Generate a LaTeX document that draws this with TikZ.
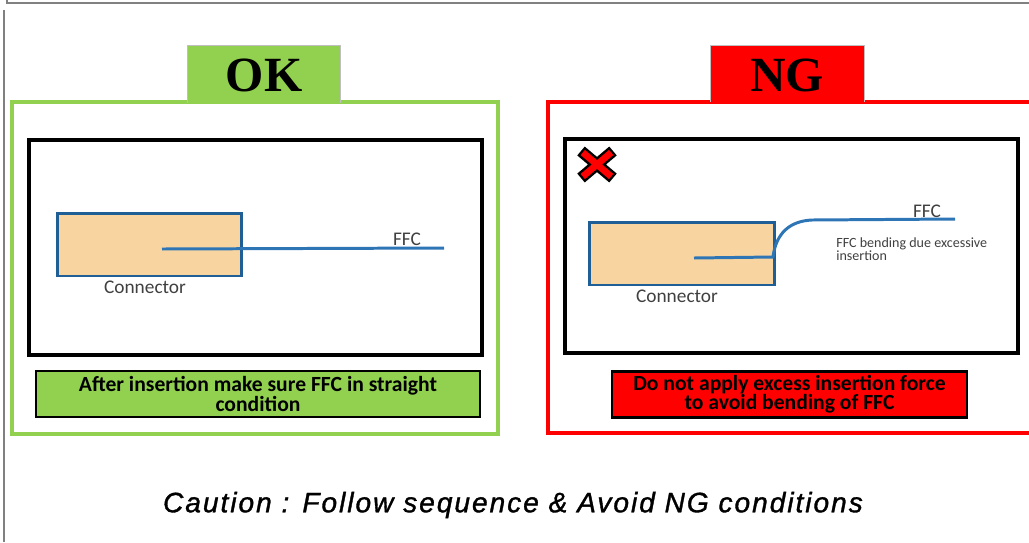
\documentclass[tikz,border=0pt]{standalone}
\usepackage{fontspec}
\setmainfont{Carlito}
\newfontfamily\tabfont{Liberation Serif}
\newfontfamily\cautionfont[FakeBold=1.2,LetterSpace=7]{Liberation Sans}
\definecolor{okgreen}{RGB}{146,208,80}
\definecolor{ngred}{RGB}{255,0,0}
\definecolor{ffcblue}{RGB}{46,117,182}
\definecolor{connfill}{RGB}{248,213,160}
\definecolor{connedge}{RGB}{31,95,150}
\definecolor{labelgray}{RGB}{64,64,64}
\tikzset{
  edge/.style={gray, line width=1.1pt},
  frame/.style={line width=1.8pt},
  tabbox/.style={draw=gray!50, line width=0.5pt},
  tabtext/.style={font=\tabfont\bfseries\fontsize{28}{28}\selectfont},
  panel/.style={draw=black, line width=2pt},
  conn/.style={draw=connedge, fill=connfill, line width=1.7pt, minimum width=3.7cm, minimum height=1.26cm, inner sep=0pt},
  ffc/.style={ffcblue, line width=1.7pt},
  lbl/.style={text=labelgray, font=\fontsize{11}{11}\selectfont, inner sep=0pt},
  tiny/.style={text=labelgray, font=\fontsize{8}{7.5}\selectfont, align=left, inner sep=0pt},
  caption/.style={draw=black, line width=1.6pt, minimum height=0.92cm, align=center, inner sep=0pt, font=\bfseries\fontsize{12.3}{11}\selectfont},
}

\begin{document}
\begin{tikzpicture}[x=0.02cm, y=-0.02cm]
  \useasboundingbox (0,0) rectangle (1029,542);
  % page edges
  \draw[edge] (7,0) -- (7,3) -- (1029,3);
  \draw[edge] (4,10) -- (4,542);
  % OK
  \draw[frame, okgreen] (12,102) rectangle (498,434);
  \fill[okgreen] (187,45) rectangle (340,104);
  \draw[tabbox] (187,103) -- (187,45) -- (340,45) -- (340,103);
  \node[tabtext] (ok) at (264,75) {OK};
  \draw[panel] (29,140) rectangle (482,355);
  \node[conn] (lbox) at (149.5,244.5) {};
  \node[lbl] (lconn) at (145,287) {Connector};
  \coordinate (lin) at (162,249);
  \coordinate (lout) at (444,248);
  \draw[ffc] (lin) -- (lout);
  \node[lbl] (lffc) at (407,239) {FFC};
  \node[caption, fill=okgreen, minimum width=8.88cm] (lcap) at (258,394)
    {After insertion make sure FFC in straight\\condition};
  % NG
  \draw[frame, ngred] (1029,102) -- (548,102) -- (548,433) -- (1029,433);
  \fill[ngred] (710,45) rectangle (864,103);
  \draw[tabbox] (710,102) -- (710,45) -- (864,45) -- (864,102);
  \node[tabtext] (ng) at (787,75) {NG};
  \draw[panel] (565,139) rectangle (1018,353);
  \draw[black, line width=6.6pt] (581,151) -- (613,178) (613,151) -- (581,178);
  \draw[ngred, line width=3.8pt] (582.8,152.5) -- (611.2,176.5) (611.2,152.5) -- (582.8,176.5);
  \node[conn] (rbox) at (682,253.5) {};
  \node[lbl] (rconn) at (677,296) {Connector};
  \coordinate (rin) at (694,258);
  \coordinate (rbend) at (773,257);
  \coordinate (rtop) at (812,220);
  \coordinate (rout) at (955,219);
  \draw[ffc] (rin) -- (rbend) .. controls (776,233) and (790,221) .. (rtop) -- (rout);
  \node[lbl] (rffc) at (927,211) {FFC};
  \node[tiny, anchor=west] (bend) at (836,249.5) {FFC bending due excessive\\insertion};
  \node[caption, fill=ngred, minimum width=7.1cm] (rcap) at (789.5,394.5)
    {Do not apply excess insertion force\\to avoid bending of FFC};
  % caution
  \node[font=\cautionfont\itshape\fontsize{16}{16}\selectfont] (caution) at (513,505)
    {Caution : Follow sequence \& Avoid NG conditions};
\end{tikzpicture}
\end{document}
